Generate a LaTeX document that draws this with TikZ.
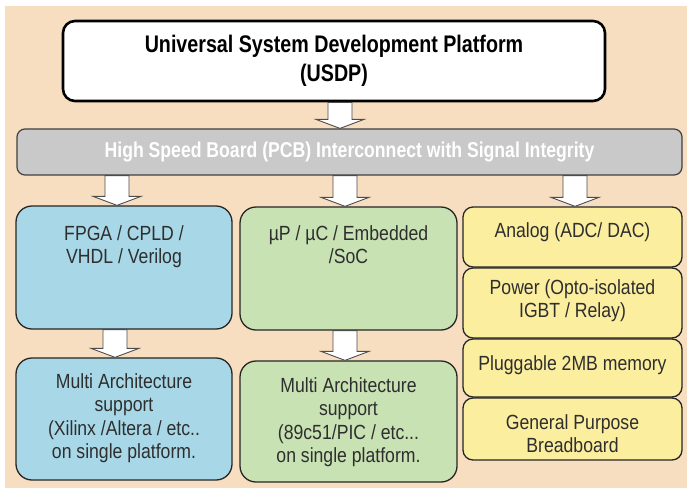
\documentclass[tikz,border=0pt]{standalone}
\usepackage{fontspec}
\setmainfont{Liberation Sans}
\newfontfamily\narrowfont[FakeStretch=0.82]{Liberation Sans}
\newfontfamily\boxfont[FakeStretch=0.86]{Liberation Sans}
\usetikzlibrary{calc}
\definecolor{bgpeach}{HTML}{F8DEC0}
\definecolor{boxblue}{HTML}{A8D8E8}
\definecolor{boxgreen}{HTML}{C8E2B4}
\definecolor{boxyellow}{HTML}{FBEE9F}
\definecolor{bargray}{HTML}{C9C9C9}
\definecolor{txtdark}{HTML}{2E2E2E}
\tikzset{
  topbox/.style={draw=black, fill=white, line width=2.6pt, rounded corners=12pt, inner sep=0pt},
  barbox/.style={draw=black!75, fill=bargray, line width=1.2pt, rounded corners=8pt, inner sep=0pt},
  colbox/.style={draw=black!85, line width=1.3pt, rounded corners=16pt, inner sep=0pt},
  ylwbox/.style={draw=black!85, fill=boxyellow, line width=1.3pt, rounded corners=10pt, inner sep=0pt, minimum width=219pt},
  boxtxt/.style={text=txtdark, align=center, inner sep=0pt, anchor=north, font=\boxfont\fontsize{20.5}{23.3}\selectfont},
  barrowsty/.style={draw=black!70, fill=white, line width=0.9pt, line join=miter},
}
\newcommand\blockarrow[3]{%
  \draw[barrowsty] let \p1=(#2.south), \p2=(#3.north) in
    (#1pt-12pt,\y1) -- (#1pt+12pt,\y1) -- (#1pt+12pt,\y2+9pt) -- (#1pt+24pt,\y2+9pt)
    -- (#1pt,\y2) -- (#1pt-24pt,\y2+9pt) -- (#1pt-12pt,\y2+9pt) -- cycle;}
\begin{document}
\begin{tikzpicture}[x=1pt,y=-1pt]
\fill[white] (0,0) rectangle (687,488);
\useasboundingbox (0,0) rectangle (687,488);
\fill[bgpeach] (5,6) rectangle (687,488);

% top box
\node[topbox, minimum width=542pt, minimum height=80pt, align=center,
      font=\narrowfont\bfseries\fontsize{24}{29}\selectfont] (usdp) at (334,61)
      {Universal System Development Platform\\(USDP)};

% bar
\node[barbox, minimum width=665pt, minimum height=46pt, text=white,
      font=\narrowfont\bfseries\fontsize{21.5}{25}\selectfont] (bar) at (349.5,152)
      {High Speed Board (PCB) Interconnect with Signal Integrity};

% blue column
\node[colbox, fill=boxblue, minimum width=216pt, minimum height=123pt] (b1) at (124,267.5) {};
\node[colbox, fill=boxblue, minimum width=216pt, minimum height=122pt] (b2) at (124,419) {};
% green column
\node[colbox, fill=boxgreen, minimum width=217pt, minimum height=123pt] (g1) at (348.5,268.5) {};
\node[colbox, fill=boxgreen, minimum width=217pt, minimum height=121pt] (g2) at (348.5,421.5) {};
% yellow column
\node[ylwbox, minimum height=60pt] (y1) at (572.5,237) {};
\node[ylwbox, minimum height=70pt] (y2) at (572.5,303) {};
\node[ylwbox, minimum height=58pt] (y3) at (572.5,368) {};
\node[ylwbox, minimum height=62pt] (y4) at (572.5,429) {};

% texts
\node[boxtxt] (b1t) at ($(b1.north)+(0,20)$) {FPGA / CPLD /\\VHDL / Verilog};
\node[boxtxt] (b2t) at ($(b2.north)+(0,16)$) {Multi Architecture\\support\\(Xilinx /Altera / etc..\\on single platform.};
\node[boxtxt] (g1t) at ($(g1.north)+(0,19)$) {µP / µC / Embedded\\/SoC};
\node[boxtxt] (g2t) at ($(g2.north)+(0,17)$) {Multi Architecture\\support\\(89c51/PIC / etc...\\on single platform.};
\node[boxtxt] (y1t) at ($(y1.north)+(0,16)$) {Analog (ADC/ DAC)};
\node[boxtxt] (y2t) at ($(y2.north)+(0,12)$) {Power (Opto-isolated\\IGBT / Relay)};
\node[boxtxt] (y3t) at ($(y3.north)+(0,17)$) {Pluggable 2MB memory};
\node[boxtxt] (y4t) at ($(y4.north)+(0,17)$) {General Purpose\\Breadboard};

% block arrows
\blockarrow{340}{usdp}{bar}
\blockarrow{117}{bar}{b1}
\blockarrow{345}{bar}{g1}
\blockarrow{575}{bar}{y1}
\blockarrow{115}{b1}{b2}
\blockarrow{345}{g1}{g2}
\end{tikzpicture}
\end{document}
